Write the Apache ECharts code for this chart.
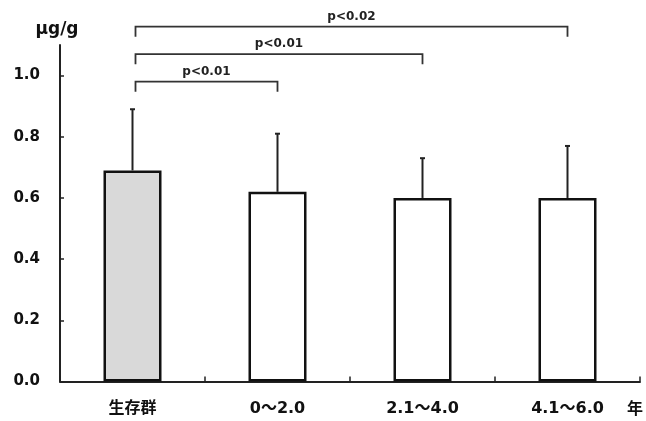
<!DOCTYPE html>
<html>
<head>
<meta charset="utf-8">
<script src="https://cdn.jsdelivr.net/npm/echarts@6/dist/echarts.min.js"></script>
<style>html,body{margin:0;padding:0;background:#fff}#c{width:646px;height:421px}</style>
</head>
<body>
<div id="c"></div>
<script>
const categories = ['生存群', '0～2.0', '2.1～4.0', '4.1～6.0'];
const means = [0.69, 0.62, 0.60, 0.60];
const upperErr = [0.89, 0.81, 0.73, 0.77];
const barFills = ['#d9d9d9', '#ffffff', '#ffffff', '#ffffff'];
const yTicks = [0, 0.2, 0.4, 0.6, 0.8, 1.0];
const bracketPairs = [[0, 1], [0, 2], [0, 3]];
const bracketLevels = [0.98, 1.07, 1.16];
const bracketLabels = ['p<0.01', 'p<0.01', 'p<0.02'];

const FONT = '"DejaVu Sans", "Noto Sans CJK JP", sans-serif';
const chart = echarts.init(document.getElementById('c'), null, {renderer: 'canvas'});

chart.setOption({
  animation: false,
  backgroundColor: '#fff',
  grid: {left: 60, right: 3, top: 45, bottom: 39.5, containLabel: false},
  xAxis: {
    type: 'category',
    data: categories,
    boundaryGap: true,
    name: '年',
    nameLocation: 'end',
    nameGap: -5,
    nameTextStyle: {fontFamily: FONT, fontWeight: 'bold', fontSize: 16, color: '#111', align: 'center', verticalAlign: 'top', padding: [20, 0, 0, 0]},
    axisLine: {lineStyle: {color: '#222', width: 2}},
    axisTick: {show: true, inside: true, length: 5, alignWithLabel: false, lineStyle: {color: '#222', width: 1.5}},
    axisLabel: {fontFamily: FONT, fontWeight: 'bold', fontSize: 16, color: '#111', margin: 19}
  },
  yAxis: {
    type: 'value',
    min: 0,
    max: 1.1,
    name: 'μg/g',
    nameLocation: 'end',
    nameGap: 15,
    nameTextStyle: {fontFamily: FONT, fontWeight: 'bold', fontSize: 17, color: '#111', align: 'center', verticalAlign: 'middle', padding: [0, 6, 0, 0]},
    splitLine: {show: false},
    axisLine: {show: true, lineStyle: {color: '#222', width: 2}},
    axisTick: {show: true, inside: true, length: 4, customValues: yTicks, lineStyle: {color: '#222', width: 1.5}},
    axisLabel: {customValues: yTicks, fontFamily: FONT, fontWeight: 'bold', fontSize: 15, color: '#111', margin: 20,
      formatter: v => v.toFixed(1)}
  },
  series: [
    {
      type: 'bar',
      barWidth: 58,
      data: means.map((v, i) => ({value: v, itemStyle: {color: barFills[i]}})),
      itemStyle: {borderColor: '#111', borderWidth: 2.5},
      z: 2
    },
    {
      type: 'custom',
      z: 3,
      clip: false,
      data: means.map((v, i) => [i, v, upperErr[i]]),
      encode: {x: 0, y: [1, 2]},
      renderItem: function (params, api) {
        const base = api.coord([api.value(0), api.value(1)]);
        const top = api.coord([api.value(0), api.value(2)]);
        const st = {stroke: '#222', lineWidth: 2};
        return {
          type: 'group',
          children: [
            {type: 'line', shape: {x1: base[0], y1: base[1], x2: top[0], y2: top[1]}, style: st},
            {type: 'line', shape: {x1: top[0] - 2.5, y1: top[1], x2: top[0] + 2.5, y2: top[1]}, style: st}
          ]
        };
      }
    },
    {
      type: 'custom',
      z: 3,
      clip: false,
      data: bracketPairs.map((p, i) => [p[0], p[1], bracketLevels[i]]),
      encode: {x: [0, 1], y: 2},
      renderItem: function (params, api) {
        const a = api.coord([api.value(0), api.value(2)]);
        const b = api.coord([api.value(1), api.value(2)]);
        const x1 = a[0] + 3, x2 = b[0], y = a[1];
        return {
          type: 'group',
          children: [
            {type: 'polyline', shape: {points: [[x1, y + 10], [x1, y], [x2, y], [x2, y + 10]]},
              style: {stroke: '#333', lineWidth: 1.8, fill: null}},
            {type: 'text', x: (x1 + x2) / 2, y: y - 10,
              style: {text: bracketLabels[params.dataIndex], fontFamily: FONT, fontWeight: 'bold', fontSize: 12,
                fill: '#222', align: 'center', verticalAlign: 'middle'}}
          ]
        };
      }
    }
  ]
});
</script>
</body>
</html>
